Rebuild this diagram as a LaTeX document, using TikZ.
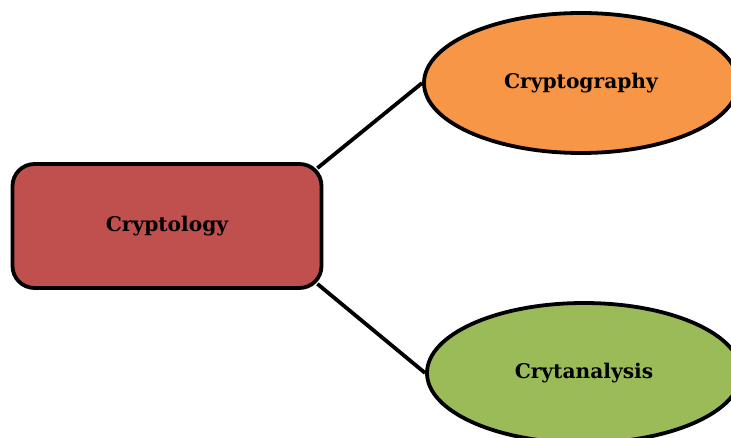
\documentclass[tikz,border=0pt]{standalone}
\usepackage{fontspec}
\setmainfont{DejaVu Serif}
\usetikzlibrary{shapes.geometric}
\definecolor{redbox}{HTML}{C0504D}
\definecolor{orangeell}{HTML}{F79646}
\definecolor{greenell}{HTML}{9BBB59}
\begin{document}
\begin{tikzpicture}[x=1pt, y=-1pt,
            caixa/.style={shape=rectangle, rounded corners=22pt, draw=black, line width=3.8pt, fill=redbox, minimum width=309pt, minimum height=124pt, font=\fontsize{20.2}{24}\selectfont\bfseries},
            elipse/.style={shape=ellipse, draw=black, line width=3.8pt, inner sep=0pt, minimum width=314pt, minimum height=140pt, font=\fontsize{20.2}{24}\selectfont\bfseries},
            ligacao/.style={line width=3.8pt},
        ]
        \useasboundingbox (0, 0) rectangle (731, 438);

        \node[caixa] (cryptology) at (167, 226) {Cryptology};
        \node[elipse, fill=orangeell] (cryptography) at (581, 83) {Cryptography};
        \node[elipse, fill=greenell] (cryptanalysis) at (584, 373) {Crytanalysis};

        \draw[ligacao] ([shift={(-6, 6)}]cryptology.north east) -- (cryptography.west);
        \draw[ligacao] ([shift={(-6, -6)}]cryptology.south east) -- (cryptanalysis.west);

    \end{tikzpicture}
\end{document}
